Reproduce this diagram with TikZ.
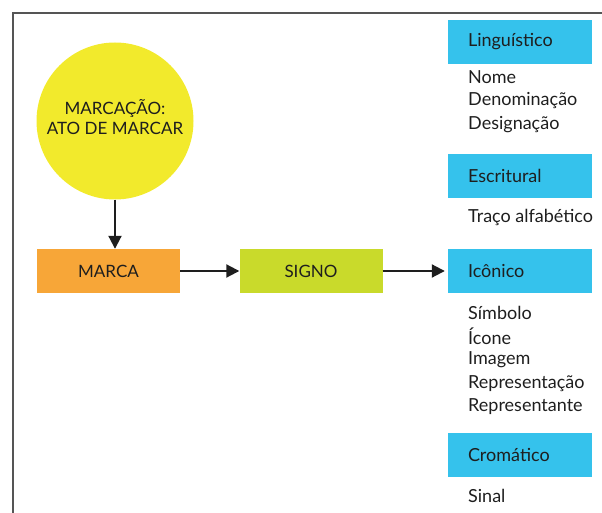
\documentclass[tikz,border=0pt]{standalone}
\usepackage{fontspec}
\setmainfont{Lato}
\usetikzlibrary{arrows.meta}
\definecolor{cyel}{HTML}{F2EA2C}
\definecolor{corg}{HTML}{F7A638}
\definecolor{cgrn}{HTML}{C9DA2B}
\definecolor{cblu}{HTML}{35C2EC}
\definecolor{ctxt}{HTML}{1E1E1E}
\definecolor{cfrm}{HTML}{555555}
\tikzset{
  every node/.style={text=ctxt, font=\fontsize{18}{21}\selectfont},
  capsfont/.style={font=\fontsize{17}{20}\selectfont},
  boxa/.style={capsfont, minimum width=143pt, minimum height=44pt, inner sep=0pt},
  bluebox/.style={fill=cblu, minimum width=144pt, minimum height=44pt, inner sep=0pt, text width=104pt, align=left},
  itemtxt/.style={anchor=west, inner sep=0pt},
  conn/.style={-{Triangle[length=13pt,width=13pt]}, line width=2pt, draw=ctxt},
}
\begin{document}
\begin{tikzpicture}[x=1pt,y=-1pt]
\useasboundingbox (0,0) rectangle (602,513);
\begin{scope}
\clip (0,0) rectangle (602,513);
\draw[cfrm, line width=1.5pt] (13,13) rectangle (640,560);
\end{scope}
\node[circle, fill=cyel, minimum size=157pt, inner sep=0pt] (circ) at (115,121) {};
\node[capsfont, align=center, inner sep=0pt] (ctext) at (115,117) {MARCAÇÃO:\\ATO DE MARCAR};
\node[boxa, fill=corg] (marca) at (108.5,271) {MARCA};
\node[boxa, fill=cgrn] (signo) at (311,271) {SIGNO};
\node[bluebox] (ling) at (520,42) {Linguístico};
\node[bluebox] (escr) at (520,176) {Escritural};
\node[bluebox] (icon) at (520,271) {Icônico};
\node[bluebox] (crom) at (520,455) {Cromático};
\node[itemtxt] (t1) at (468,77) {Nome};
\node[itemtxt] (t2) at (468,101) {Denominação};
\node[itemtxt] (t3) at (468,125) {Designação};
\node[itemtxt] (t4) at (468,217) {Traço alfabético};
\node[itemtxt] (t5) at (468,313) {Símbolo};
\node[itemtxt] (t6) at (468,336) {Ícone};
\node[itemtxt] (t7) at (468,360) {Imagem};
\node[itemtxt] (t8) at (468,384) {Representação};
\node[itemtxt] (t9) at (468,407) {Representante};
\node[itemtxt] (t10) at (468,496) {Sinal};
\draw[conn] (circ.south) -- (circ.south |- marca.north);
\draw[conn] (marca.east) -- (signo.west);
\draw[conn] (signo.east) -- ([xshift=-3pt]icon.west);
\end{tikzpicture}
\end{document}
